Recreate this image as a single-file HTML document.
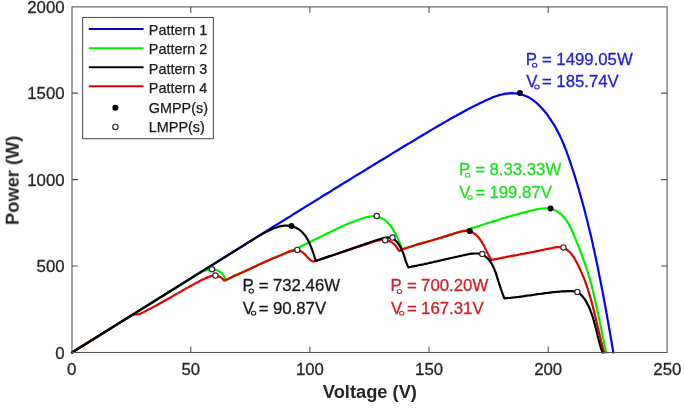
<!DOCTYPE html>
<html><head><meta charset="utf-8"><style>
html,body{margin:0;padding:0;background:#fff;width:685px;height:408px;overflow:hidden}
svg{display:block}
text{will-change:transform}
text{font-family:"Liberation Sans",sans-serif}
.tick text{font-size:16.8px}
.axl{font-size:18.3px;font-weight:bold;fill:#262626}
.leg text{font-size:14.4px}
.an text{font-size:16.8px}
.an text.sub{font-size:10px}
</style></head><body>
<svg width="685" height="408" viewBox="0 0 685 408">
<rect width="685" height="408" fill="#fff"/>
<g class="curves" fill="none" stroke-width="2.2" stroke-linejoin="round" stroke-linecap="round">
<path d="M72.00,352.50 L74.7,350.8 77.3,349.2 79.9,347.6 82.6,345.9 85.2,344.3 87.8,342.7 90.4,341.0 93.1,339.4 95.7,337.8 98.3,336.1 100.9,334.5 103.6,332.8 106.2,331.2 108.8,329.6 111.5,327.9 114.1,326.3 116.7,324.7 119.3,323.0 122.0,321.4 124.6,319.7 127.2,318.1 129.9,316.5 132.5,314.8 135.1,313.2 137.7,311.5 140.4,309.9 143.0,308.2 145.6,306.6 148.3,304.9 150.9,303.3 153.5,301.7 156.2,300.0 158.8,298.4 161.4,296.7 164.1,295.1 166.7,293.4 169.3,291.8 172.0,290.1 174.6,288.5 177.2,286.8 179.8,285.2 182.5,283.5 185.1,281.9 187.7,280.2 190.4,278.6 193.0,276.9 195.6,275.3 198.3,273.6 200.9,272.0 203.6,270.4 206.2,268.7 208.8,267.1 211.5,265.4 214.1,263.8 216.7,262.1 219.4,260.5 222.0,258.8 224.6,257.2 227.3,255.5 229.9,253.9 232.5,252.2 235.2,250.6 237.8,248.9 240.5,247.3 243.1,245.6 245.7,244.0 248.4,242.3 251.0,240.7 253.6,239.1 256.3,237.4 258.9,235.8 261.5,234.1 264.2,232.5 266.8,230.8 269.5,229.2 272.1,227.5 274.7,225.9 277.4,224.3 280.0,222.6 282.7,221.0 285.3,219.3 287.9,217.7 290.6,216.1 293.2,214.4 295.8,212.8 298.5,211.1 301.1,209.5 303.8,207.9 306.4,206.2 309.0,204.6 311.7,203.0 314.3,201.3 317.0,199.7 319.6,198.1 322.2,196.4 324.9,194.8 327.5,193.2 330.2,191.6 332.8,189.9 335.4,188.3 338.1,186.7 340.7,185.0 343.4,183.4 346.0,181.8 348.6,180.2 351.3,178.6 353.9,176.9 356.6,175.3 359.2,173.7 361.8,172.1 364.5,170.5 367.1,168.8 369.8,167.2 372.4,165.6 375.1,164.0 377.7,162.4 380.3,160.8 383.0,159.2 385.6,157.6 388.3,156.0 390.9,154.4 393.5,152.7 396.2,151.1 398.8,149.5 401.5,147.9 404.1,146.3 406.7,144.7 409.4,143.1 412.0,141.6 414.7,140.0 417.3,138.4 420.0,136.8 422.6,135.2 425.2,133.6 427.9,132.0 430.5,130.4 433.2,128.9 435.9,127.3 438.5,125.7 441.2,124.2 443.9,122.6 446.6,121.1 449.3,119.5 452.0,118.0 454.7,116.5 457.5,115.0 460.2,113.5 463.0,112.0 465.7,110.5 468.5,109.0 471.3,107.6 474.2,106.1 477.0,104.7 479.9,103.3 482.7,101.9 485.6,100.5 488.5,99.2 491.4,97.9 494.4,96.8 497.3,95.8 500.2,94.9 503.2,94.2 506.1,93.6 509.1,93.3 512.0,93.1 514.9,93.3 517.8,93.6 520.7,94.3 523.6,95.2 526.4,96.3 529.1,97.6 531.7,99.2 534.2,101.0 536.6,103.0 538.9,105.1 541.1,107.4 543.3,109.7 545.3,112.2 547.2,114.7 549.1,117.3 550.8,119.8 552.5,122.5 554.2,125.1 555.7,127.8 557.2,130.6 558.6,133.3 560.0,136.1 561.3,138.9 562.6,141.7 563.8,144.6 564.9,147.5 566.1,150.4 567.1,153.3 568.2,156.2 569.2,159.1 570.2,162.1 571.2,165.0 572.2,168.0 573.1,170.9 574.1,173.9 575.0,176.8 575.9,179.8 576.8,182.8 577.7,185.8 578.6,188.7 579.4,191.7 580.3,194.7 581.1,197.7 582.0,200.7 582.8,203.7 583.6,206.7 584.4,209.6 585.2,212.6 585.9,215.7 586.7,218.7 587.5,221.7 588.2,224.7 588.9,227.7 589.7,230.7 590.4,233.7 591.1,236.7 591.8,239.8 592.5,242.8 593.1,245.8 593.8,248.8 594.5,251.9 595.1,254.9 595.8,257.9 596.4,261.0 597.1,264.0 597.7,267.0 598.3,270.1 598.9,273.1 599.5,276.2 600.1,279.2 600.7,282.2 601.3,285.3 601.9,288.3 602.5,291.4 603.1,294.4 603.6,297.5 604.2,300.5 604.8,303.6 605.3,306.6 605.9,309.7 606.4,312.7 607.0,315.8 607.5,318.9 608.1,321.9 608.6,325.0 609.1,328.0 609.7,331.1 610.2,334.1 610.7,337.2 611.3,340.3 611.8,343.3 612.3,346.4 612.8,349.4 613.3,352.5" stroke="#0000ff"/>
<path d="M72.00,352.50 L192.00,277.62 L193.2,276.8 194.4,275.9 195.7,275.0 197.0,274.1 198.4,273.3 199.8,272.6 201.3,271.9 202.9,271.3 204.4,270.8 206.0,270.4 207.6,270.0 209.2,269.8 210.8,269.7 212.3,269.6 213.9,269.7 215.3,269.9 216.8,270.3 218.1,270.8 219.4,271.5 220.7,272.3 221.8,273.2 222.8,274.3 223.8,275.7 224.6,277.1 225.2,278.8 225.6,280.4 C226.40,279.93 226.98,279.55 228.00,279.00 C229.71,278.09 232.67,276.73 235.00,275.60 C238.33,274.13 241.24,272.91 245.00,271.20 C249.93,268.96 256.69,265.59 262.00,263.20 C266.61,261.13 270.67,259.47 275.00,257.60 L276.3,256.9 277.8,256.3 279.2,255.8 280.6,255.2 282.1,254.7 283.5,254.1 284.9,253.5 286.3,252.9 287.8,252.3 289.2,251.7 290.6,251.1 292.0,250.5 293.3,249.9 294.7,249.3 296.1,248.6 297.5,248.0 298.9,247.4 300.3,246.7 301.6,246.1 303.0,245.4 304.4,244.8 305.7,244.1 307.1,243.4 308.4,242.8 309.8,242.1 311.2,241.4 312.5,240.8 313.9,240.1 315.2,239.4 316.6,238.7 318.0,238.1 319.3,237.4 320.7,236.7 322.0,236.0 323.4,235.4 324.8,234.7 326.1,234.0 327.5,233.3 328.9,232.7 330.2,232.0 331.6,231.4 333.0,230.7 334.4,230.0 335.7,229.4 337.1,228.7 338.5,228.1 339.9,227.5 341.3,226.8 342.7,226.2 344.1,225.6 345.5,225.0 347.0,224.3 348.4,223.7 349.8,223.1 351.3,222.5 352.7,222.0 354.1,221.4 355.6,220.8 357.1,220.3 358.5,219.7 360.0,219.2 361.5,218.7 363.0,218.2 364.5,217.7 366.0,217.3 367.4,217.0 368.9,216.7 370.4,216.5 371.8,216.4 373.3,216.4 374.7,216.5 376.1,216.6 377.5,216.9 378.9,217.2 380.2,217.6 381.5,218.2 382.7,218.8 384.0,219.6 385.1,220.4 386.3,221.3 387.4,222.3 388.4,223.4 389.5,224.5 390.5,225.8 391.4,227.0 392.3,228.3 393.2,229.7 394.0,231.1 394.8,232.5 395.6,234.0 396.4,235.4 397.1,236.9 397.8,238.4 398.4,239.8 399.0,241.3 399.6,242.7 400.2,244.1 400.7,245.5 401.2,246.9 401.7,248.2 402.3,249.4 C406.53,248.00 410.57,246.55 415.00,245.20 C419.78,243.74 425.01,242.46 430.00,241.00 C435.01,239.53 440.00,237.93 445.00,236.40 L446.4,235.8 447.8,235.4 449.3,234.9 450.8,234.5 452.3,234.1 453.7,233.7 455.2,233.3 456.7,232.8 458.1,232.4 459.6,232.0 461.0,231.5 462.5,231.1 463.9,230.6 465.4,230.2 466.8,229.7 468.3,229.3 469.7,228.8 471.1,228.4 472.6,227.9 474.0,227.5 475.5,227.0 476.9,226.6 478.3,226.1 479.8,225.7 481.2,225.2 482.6,224.7 484.1,224.3 485.5,223.8 486.9,223.4 488.4,222.9 489.8,222.5 491.2,222.0 492.7,221.6 494.1,221.1 495.6,220.7 497.0,220.2 498.4,219.8 499.9,219.3 501.3,218.9 502.8,218.4 504.2,218.0 505.7,217.6 507.1,217.1 508.6,216.7 510.0,216.3 511.5,215.9 512.9,215.4 514.4,215.0 515.9,214.6 517.4,214.2 518.8,213.8 520.3,213.4 521.8,213.0 523.3,212.6 524.8,212.2 526.3,211.9 527.8,211.5 529.3,211.1 530.8,210.8 532.3,210.4 533.8,210.1 535.3,209.7 536.8,209.4 538.4,209.1 539.9,208.9 541.4,208.7 542.9,208.5 544.4,208.4 545.9,208.4 547.3,208.4 548.8,208.5 550.2,208.8 551.6,209.1 552.9,209.5 554.3,210.0 555.6,210.6 556.9,211.3 558.1,212.0 559.3,212.9 560.4,213.8 561.5,214.7 562.6,215.8 563.6,216.8 564.6,218.0 565.5,219.1 566.4,220.4 567.2,221.6 568.0,222.9 568.8,224.2 569.6,225.6 570.3,227.0 571.0,228.4 571.7,229.8 572.3,231.3 573.0,232.8 573.6,234.2 574.2,235.7 574.8,237.2 575.4,238.6 576.0,240.1 576.6,241.6 577.2,243.0 577.7,244.5 578.3,245.9 578.9,247.3 579.4,248.8 580.0,250.2 580.5,251.6 581.0,253.0 581.6,254.4 582.1,255.8 582.6,257.2 583.1,258.6 583.6,260.0 584.1,261.4 584.6,262.8 585.1,264.2 585.6,265.6 586.0,267.0 586.5,268.4 587.0,269.8 587.4,271.2 587.9,272.6 588.3,274.1 588.7,275.5 589.2,276.9 589.6,278.4 590.0,279.8 590.4,281.3 590.8,282.7 591.2,284.2 591.6,285.6 592.0,287.1 592.3,288.6 592.7,290.0 593.1,291.5 593.4,293.0 593.8,294.5 594.2,296.0 594.5,297.4 594.9,298.9 595.2,300.4 595.5,301.9 595.9,303.4 596.2,304.9 596.5,306.4 596.9,307.9 597.2,309.4 597.5,310.9 597.8,312.4 598.2,313.9 598.5,315.4 598.8,316.9 599.1,318.4 599.4,319.9 599.7,321.4 600.0,322.9 600.3,324.4 600.6,325.9 600.9,327.4 601.2,328.9 601.5,330.4 601.8,331.9 602.1,333.4 602.4,334.8 602.7,336.3 603.0,337.8 603.3,339.3 603.7,340.8 604.0,342.2 604.3,343.7 604.6,345.2 604.9,346.6 605.2,348.1 605.5,349.5 605.8,351.0 606.1,352.5" stroke="#00ee00"/>
<path d="M72.00,352.50 L131.00,315.68 C131.73,315.32 132.37,314.83 133.20,314.60 C134.17,314.34 135.42,314.42 136.50,314.35 C137.55,314.28 138.57,314.25 139.60,314.20 L140.9,313.4 142.3,312.7 143.7,312.1 145.0,311.4 146.4,310.7 147.7,310.0 149.1,309.3 150.4,308.6 151.8,307.9 153.1,307.2 154.5,306.4 155.8,305.7 157.2,305.0 158.5,304.2 159.8,303.5 161.2,302.7 162.5,302.0 163.8,301.2 165.1,300.5 166.5,299.7 167.8,299.0 169.1,298.2 170.4,297.5 171.8,296.7 173.1,295.9 174.4,295.2 175.7,294.4 177.1,293.6 178.4,292.9 179.7,292.1 181.0,291.4 182.4,290.6 183.7,289.8 185.0,289.1 186.4,288.3 187.7,287.6 189.1,286.8 190.4,286.1 191.8,285.4 193.1,284.6 194.5,283.9 195.8,283.2 197.2,282.5 198.6,281.7 199.9,281.0 201.3,280.3 202.7,279.6 204.1,279.0 205.5,278.3 206.9,277.6 208.3,277.1 209.7,276.5 211.1,276.1 212.4,275.8 213.8,275.6 215.2,275.5 216.6,275.7 217.9,276.0 219.2,276.5 220.5,277.2 221.8,278.2 223.1,279.4 224.3,280.6 C225.03,280.30 225.54,280.13 226.50,279.70 C228.42,278.85 232.17,276.97 235.00,275.60 C238.33,274.13 241.24,272.91 245.00,271.20 C249.93,268.96 256.69,265.59 262.00,263.20 C266.61,261.13 270.67,259.47 275.00,257.60 L276.3,257.2 277.7,256.6 279.1,255.9 280.6,255.3 282.1,254.6 283.7,253.9 285.3,253.2 286.8,252.5 288.4,251.9 290.0,251.4 291.6,250.9 293.2,250.6 294.7,250.4 296.2,250.3 297.7,250.4 299.1,250.7 300.5,251.1 301.8,251.8 303.1,252.7 304.3,253.8 305.4,254.9 306.6,256.2 307.7,257.4 308.8,258.6 310.0,259.7 311.2,260.6 312.5,261.4 314.0,261.5 L315.5,261.0 316.9,260.5 318.4,260.0 319.9,259.5 321.4,259.0 322.8,258.6 324.3,258.1 325.8,257.6 327.2,257.1 328.7,256.6 330.1,256.1 331.5,255.7 333.0,255.2 334.4,254.7 335.9,254.2 337.3,253.7 338.7,253.3 340.2,252.8 341.6,252.3 343.0,251.8 344.5,251.4 345.9,250.9 347.3,250.4 348.8,249.9 350.2,249.5 351.7,249.0 353.1,248.5 354.6,248.0 356.0,247.5 357.5,247.0 358.9,246.6 360.4,246.1 361.9,245.6 363.3,245.1 364.8,244.6 366.3,244.1 367.8,243.6 369.3,243.1 370.8,242.6 372.3,242.1 373.8,241.6 375.4,241.2 376.9,240.8 378.4,240.4 379.9,240.2 381.4,240.0 382.9,239.9 384.4,240.0 385.8,240.1 387.3,240.4 388.7,240.9 390.0,241.4 391.3,242.1 392.6,242.9 393.8,243.8 394.9,244.9 395.9,246.0 396.8,247.3 397.6,248.6 398.4,250.0 399.4,251.0 L402.30,249.40 C406.53,248.00 410.57,246.55 415.00,245.20 C419.78,243.74 425.01,242.46 430.00,241.00 C435.01,239.53 440.00,237.93 445.00,236.40 L446.4,236.1 447.9,235.6 449.4,235.1 450.9,234.6 452.4,234.1 454.0,233.5 455.6,233.0 457.1,232.6 458.7,232.1 460.3,231.7 461.9,231.4 463.4,231.2 465.0,231.1 466.5,231.0 468.0,231.1 469.4,231.4 470.8,231.8 472.1,232.3 473.4,233.0 474.6,233.8 475.8,234.7 476.9,235.7 478.0,236.8 479.0,238.0 479.9,239.2 480.8,240.5 481.7,241.9 482.5,243.3 483.3,244.7 484.1,246.1 484.8,247.6 485.5,249.1 486.2,250.5 486.9,252.0 487.7,253.4 488.4,254.8 489.1,256.1 489.8,257.4 490.6,258.6 491.3,260.0 L492.8,259.7 494.3,259.4 495.8,259.1 497.3,258.8 498.8,258.5 500.3,258.2 501.7,257.9 503.2,257.6 504.7,257.3 506.2,257.0 507.7,256.7 509.2,256.5 510.7,256.2 512.2,255.9 513.7,255.6 515.2,255.3 516.6,255.1 518.1,254.8 519.6,254.5 521.1,254.2 522.6,253.9 524.0,253.7 525.5,253.4 527.0,253.1 528.5,252.8 530.0,252.5 531.4,252.2 532.9,252.0 534.4,251.7 535.8,251.4 537.3,251.1 538.8,250.8 540.3,250.5 541.7,250.2 543.2,249.9 544.7,249.5 546.2,249.2 547.7,248.9 549.3,248.6 550.8,248.3 552.5,248.0 554.1,247.7 555.7,247.4 557.4,247.2 558.9,247.2 560.5,247.3 561.9,247.5 563.2,247.9 564.5,248.4 565.8,249.0 566.9,249.7 568.0,250.6 569.1,251.5 570.1,252.5 571.1,253.6 572.0,254.7 572.8,256.0 573.7,257.2 574.5,258.5 575.3,259.8 576.0,261.2 576.8,262.6 577.5,263.9 578.2,265.3 578.9,266.7 579.5,268.1 580.2,269.5 580.8,270.8 581.4,272.2 582.1,273.6 582.6,275.1 583.2,276.5 583.8,277.9 584.3,279.3 584.9,280.7 585.4,282.1 585.9,283.6 586.4,285.0 586.9,286.4 587.4,287.9 587.9,289.3 588.3,290.8 588.8,292.2 589.2,293.7 589.7,295.1 590.1,296.6 590.5,298.0 590.9,299.5 591.3,300.9 591.7,302.4 592.1,303.9 592.5,305.3 592.9,306.8 593.3,308.3 593.6,309.7 594.0,311.2 594.4,312.7 594.7,314.2 595.1,315.6 595.4,317.1 595.8,318.6 596.1,320.1 596.5,321.5 596.8,323.0 597.2,324.5 597.5,326.0 597.9,327.4 598.2,328.9 598.6,330.4 598.9,331.9 599.2,333.4 599.6,334.8 600.0,336.3 600.3,337.8 600.7,339.2 601.0,340.7 601.4,342.2 601.8,343.7 602.1,345.1 602.5,346.6 602.9,348.1 603.3,349.5 603.7,351.0 603.9,352.5" stroke="#e00000"/>
<path d="M72.00,352.50 L255.00,238.31 L256.2,237.6 257.4,236.9 258.6,236.2 259.8,235.4 261.1,234.7 262.5,233.9 263.8,233.1 265.2,232.4 266.7,231.6 268.1,230.9 269.6,230.2 271.0,229.5 272.5,228.8 274.0,228.2 275.6,227.7 277.1,227.2 278.6,226.8 280.1,226.4 281.7,226.1 283.2,225.9 284.7,225.7 286.2,225.7 287.7,225.7 289.2,225.8 290.6,226.1 292.0,226.4 293.4,226.8 294.8,227.2 296.1,227.8 297.4,228.5 298.6,229.2 299.8,230.1 300.9,231.0 302.0,232.0 303.0,233.1 304.0,234.2 305.0,235.4 305.9,236.7 306.7,238.0 307.5,239.4 308.3,240.8 309.0,242.2 309.7,243.7 310.3,245.1 310.9,246.6 311.5,248.1 312.1,249.6 312.6,251.1 313.1,252.6 313.6,254.0 314.1,255.5 314.5,256.9 315.0,258.3 315.4,259.6 315.9,261.0 L317.3,260.5 318.8,260.0 320.3,259.4 321.8,258.9 323.3,258.4 324.7,257.9 326.2,257.4 327.7,256.9 329.1,256.4 330.6,255.9 332.0,255.5 333.4,255.0 334.9,254.5 336.3,254.0 337.7,253.5 339.1,253.0 340.5,252.5 342.0,252.0 343.4,251.5 344.8,251.0 346.2,250.5 347.6,250.1 349.0,249.6 350.5,249.1 351.9,248.6 353.3,248.1 354.7,247.6 356.1,247.1 357.6,246.6 359.0,246.1 360.5,245.6 361.9,245.1 363.4,244.6 364.8,244.1 366.3,243.6 367.8,243.1 369.3,242.6 370.7,242.0 372.3,241.5 373.8,241.0 375.3,240.5 376.8,240.0 378.4,239.5 379.9,239.0 381.4,238.6 382.9,238.2 384.4,237.9 385.9,237.7 387.3,237.6 388.7,237.6 390.1,237.8 391.4,238.1 392.6,238.6 393.8,239.2 394.9,240.0 396.0,241.0 397.0,242.0 397.9,243.2 398.8,244.5 399.7,245.8 400.5,247.2 401.2,248.7 401.9,250.2 402.6,251.7 403.2,253.2 403.7,254.7 404.2,256.2 404.7,257.7 405.2,259.2 405.6,260.6 406.1,262.0 406.6,263.4 407.2,264.7 407.8,266.0 408.5,267.4 L410.0,267.0 411.5,266.7 413.1,266.4 414.6,266.1 416.1,265.8 417.6,265.5 419.1,265.2 420.6,264.9 422.1,264.6 423.6,264.3 425.1,263.9 426.6,263.6 428.1,263.3 429.5,262.9 431.0,262.6 432.5,262.3 434.0,261.9 435.5,261.6 437.0,261.3 438.4,260.9 439.9,260.6 441.4,260.2 442.9,259.9 444.4,259.5 445.9,259.2 447.4,258.8 448.9,258.5 450.4,258.2 451.9,257.8 453.4,257.5 454.9,257.1 456.4,256.8 457.9,256.5 459.4,256.1 460.9,255.8 462.5,255.5 464.0,255.1 465.6,254.8 467.1,254.5 468.6,254.2 470.2,253.9 471.7,253.7 473.2,253.6 474.7,253.5 476.2,253.5 477.7,253.5 479.1,253.7 480.5,254.0 481.8,254.5 483.1,255.1 484.3,255.8 485.5,256.6 486.7,257.5 487.8,258.6 488.8,259.7 489.8,260.9 490.7,262.2 491.5,263.5 492.3,264.9 493.0,266.3 493.7,267.7 494.3,269.2 494.9,270.7 495.5,272.2 496.0,273.7 496.5,275.2 497.0,276.8 497.5,278.3 498.0,279.8 498.4,281.3 498.9,282.7 499.3,284.2 499.8,285.6 500.3,287.0 500.7,288.4 501.2,289.9 501.7,291.3 502.2,292.7 502.7,294.1 503.2,295.5 503.8,296.9 504.4,298.4 L505.9,298.2 507.4,298.1 508.9,298.0 510.4,297.8 511.9,297.7 513.4,297.5 515.0,297.3 516.5,297.1 518.0,297.0 519.5,296.8 521.0,296.6 522.5,296.4 524.0,296.2 525.6,295.9 527.1,295.7 528.6,295.5 530.1,295.3 531.6,295.1 533.1,294.9 534.7,294.6 536.2,294.4 537.7,294.2 539.2,294.0 540.8,293.8 542.3,293.6 543.8,293.3 545.3,293.1 546.8,293.0 548.4,292.8 549.9,292.6 551.4,292.4 552.9,292.2 554.5,292.1 556.0,291.9 557.5,291.8 559.0,291.7 560.5,291.5 562.1,291.4 563.6,291.3 565.1,291.3 566.6,291.2 568.2,291.2 569.7,291.1 571.2,291.1 572.7,291.2 574.1,291.4 575.5,291.7 576.9,292.1 578.1,292.7 579.3,293.5 580.5,294.4 581.6,295.4 582.6,296.5 583.5,297.7 584.5,298.9 585.3,300.2 586.2,301.6 586.9,302.9 587.7,304.4 588.4,305.8 589.1,307.3 589.7,308.7 590.3,310.2 590.8,311.6 591.4,313.1 591.9,314.5 592.4,316.0 592.9,317.4 593.3,318.9 593.7,320.3 594.1,321.8 594.5,323.2 594.9,324.6 595.3,326.1 595.6,327.5 596.0,329.0 596.4,330.4 596.7,331.8 597.0,333.3 597.4,334.7 597.8,336.2 598.1,337.6 598.5,339.1 598.8,340.6 599.2,342.0 599.6,343.5 600.0,345.0 600.5,346.5 600.9,348.0 601.4,349.5 601.9,351.0 602.4,352.5" stroke="#000000"/>
</g>
<g fill="#000"><circle cx="519.90" cy="93.00" r="3"/><circle cx="550.60" cy="208.40" r="3"/><circle cx="291.50" cy="225.90" r="3"/><circle cx="469.80" cy="230.90" r="3"/></g>
<g fill="#fff" stroke="#2a2a2a" stroke-width="1.2"><circle cx="212.00" cy="269.30" r="2.65"/><circle cx="215.40" cy="275.60" r="2.65"/><circle cx="297.40" cy="249.90" r="2.65"/><circle cx="376.70" cy="216.00" r="2.65"/><circle cx="385.10" cy="240.30" r="2.65"/><circle cx="392.50" cy="237.60" r="2.65"/><circle cx="482.30" cy="254.00" r="2.65"/><circle cx="563.50" cy="247.40" r="2.65"/><circle cx="577.40" cy="291.90" r="2.65"/></g>
<g fill="none" stroke="#555" stroke-width="1.1">
<rect x="72.0" y="6.9" width="595.10" height="345.60"/>
<path d="M190.75,352.50V346.50 M190.75,6.90V12.90 M309.90,352.50V346.50 M309.90,6.90V12.90 M429.05,352.50V346.50 M429.05,6.90V12.90 M548.20,352.50V346.50 M548.20,6.90V12.90 M72.00,266.05H78.00 M667.10,266.05H661.10 M72.00,179.60H78.00 M667.10,179.60H661.10 M72.00,93.15H78.00 M667.10,93.15H661.10"/>
</g>
<g class="tick" fill="#262626" stroke="#262626" stroke-width="0.3"><text x="71.60" y="374.9" text-anchor="middle">0</text><text x="190.75" y="374.9" text-anchor="middle">50</text><text x="309.90" y="374.9" text-anchor="middle">100</text><text x="429.05" y="374.9" text-anchor="middle">150</text><text x="548.20" y="374.9" text-anchor="middle">200</text><text x="667.35" y="374.9" text-anchor="middle">250</text><text x="64.6" y="358.50" text-anchor="end">0</text><text x="64.6" y="272.05" text-anchor="end">500</text><text x="64.6" y="185.60" text-anchor="end">1000</text><text x="64.6" y="99.15" text-anchor="end">1500</text><text x="64.6" y="12.70" text-anchor="end">2000</text></g>
<text class="axl" x="369.9" y="398" text-anchor="middle">Voltage (V)</text>
<text class="axl" transform="translate(18.7,180.3) rotate(-90)" text-anchor="middle">Power (W)</text>
<!-- legend -->
<rect x="82.6" y="17.5" width="130.8" height="121.2" fill="#fff" stroke="#555" stroke-width="1.1"/>
<g stroke-width="2">
<path d="M88.8,29H143.6" stroke="#0000c0"/>
<path d="M88.8,48.2H143.6" stroke="#00ee00"/>
<path d="M88.8,67.3H143.6" stroke="#000"/>
<path d="M88.8,86.3H143.6" stroke="#e00000"/>
</g>
<circle cx="115.4" cy="107.8" r="3" fill="#000"/>
<circle cx="115.4" cy="126.9" r="2.65" fill="#fff" stroke="#2a2a2a" stroke-width="1.2"/>
<g class="leg" fill="#1a1a1a" stroke="#1a1a1a" stroke-width="0.25">
<text x="148.8" y="35.3">Pattern 1</text>
<text x="148.8" y="54.4">Pattern 2</text>
<text x="148.8" y="73.5">Pattern 3</text>
<text x="148.8" y="92.6">Pattern 4</text>
<text x="148.8" y="112.6">GMPP(s)</text>
<text x="148.8" y="131.6">LMPP(s)</text>
</g>
<g fill="#1f1fd8" stroke="#1f1fd8" stroke-width="0.3" class="an">
<text x="525.82" y="64.9">P</text><text x="542.10" y="64.9">=</text><text x="556.30" y="64.9">1499.05W</text>
<text x="526.20" y="87.4">V</text><text x="542.10" y="87.4">=</text><text x="556.30" y="87.4">185.74V</text>
</g><g fill="none" stroke="#1f1fd8" stroke-width="1.05"><ellipse cx="534.60" cy="65.30" rx="2.2" ry="2.0"/><ellipse cx="537.00" cy="86.90" rx="2.2" ry="2.0"/></g>
<g fill="#1fe01f" stroke="#1fe01f" stroke-width="0.3" class="an">
<text x="458.92" y="174.8">P</text><text x="475.20" y="174.8">=</text><text x="489.40" y="174.8">8.33.33W</text>
<text x="459.30" y="197.9">V</text><text x="475.20" y="197.9">=</text><text x="489.40" y="197.9">199.87V</text>
</g><g fill="none" stroke="#1fe01f" stroke-width="1.05"><ellipse cx="467.70" cy="175.20" rx="2.2" ry="2.0"/><ellipse cx="470.10" cy="197.40" rx="2.2" ry="2.0"/></g>
<g fill="#1a1a1a" stroke="#1a1a1a" stroke-width="0.3" class="an">
<text x="242.42" y="290.7">P</text><text x="258.70" y="290.7">=</text><text x="272.90" y="290.7">732.46W</text>
<text x="242.80" y="313.8">V</text><text x="258.70" y="313.8">=</text><text x="272.90" y="313.8">90.87V</text>
</g><g fill="none" stroke="#1a1a1a" stroke-width="1.05"><ellipse cx="251.20" cy="291.10" rx="2.2" ry="2.0"/><ellipse cx="253.60" cy="313.30" rx="2.2" ry="2.0"/></g>
<g fill="#d02028" stroke="#d02028" stroke-width="0.3" class="an">
<text x="390.62" y="291.0">P</text><text x="406.90" y="291.0">=</text><text x="421.10" y="291.0">700.20W</text>
<text x="391.00" y="313.8">V</text><text x="406.90" y="313.8">=</text><text x="421.10" y="313.8">167.31V</text>
</g><g fill="none" stroke="#d02028" stroke-width="1.05"><ellipse cx="399.40" cy="291.40" rx="2.2" ry="2.0"/><ellipse cx="401.80" cy="313.30" rx="2.2" ry="2.0"/></g>
</svg>
</body></html>
